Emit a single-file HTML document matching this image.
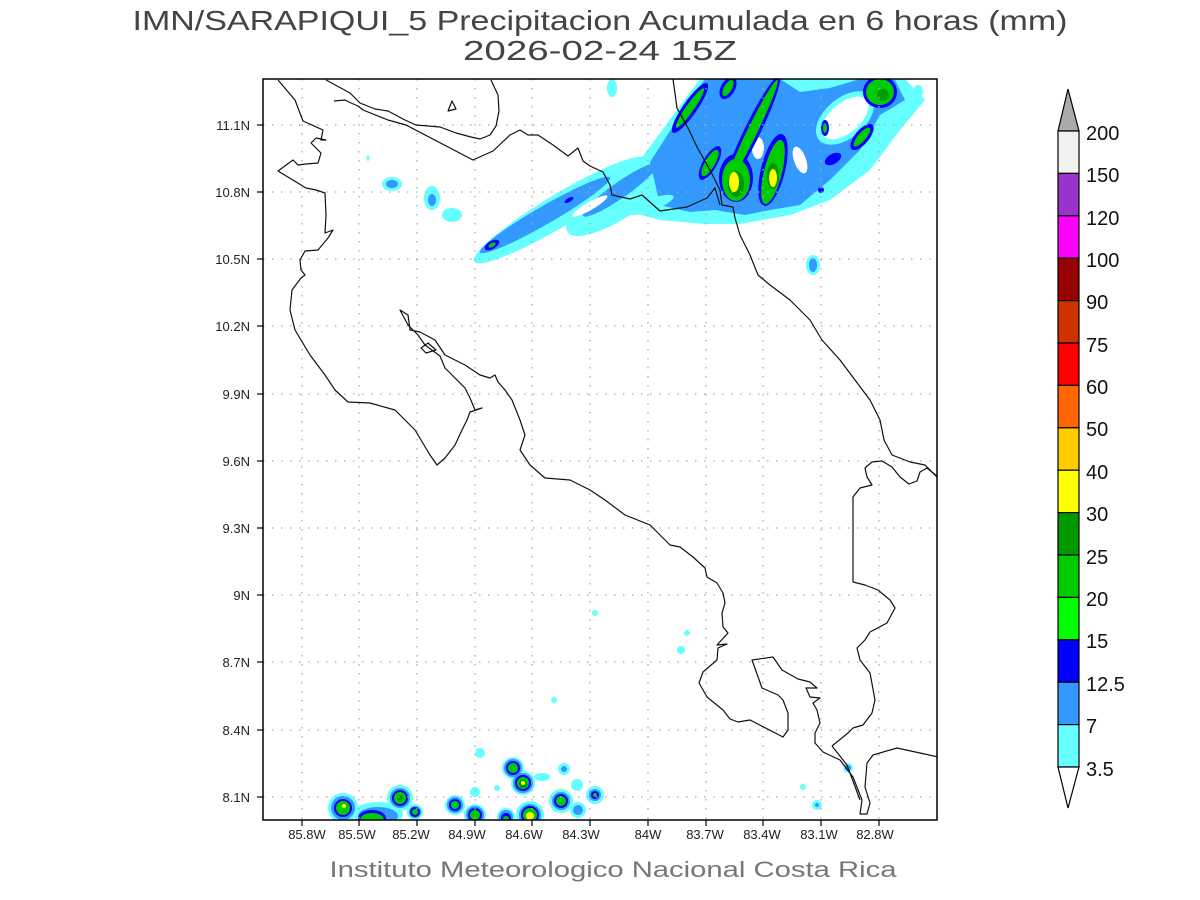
<!DOCTYPE html>
<html><head><meta charset="utf-8"><style>
html,body{margin:0;padding:0;background:#fff;}
svg{display:block;font-family:"Liberation Sans",sans-serif;}
</style></head><body>
<svg width="1200" height="900" viewBox="0 0 1200 900" xmlns="http://www.w3.org/2000/svg">
<rect width="1200" height="900" fill="#fff"/>
<text x="600" y="30" font-size="28" text-anchor="middle" textLength="935" lengthAdjust="spacingAndGlyphs" fill="#444">IMN/SARAPIQUI_5 Precipitacion Acumulada en 6 horas (mm)</text>
<text x="600" y="60" font-size="28" text-anchor="middle" textLength="274" lengthAdjust="spacingAndGlyphs" fill="#444">2026-02-24 15Z</text>
<defs><clipPath id="c"><rect x="263" y="79" width="674" height="741"/></clipPath></defs>
<g clip-path="url(#c)">
<g fill="#66ffff">
<ellipse cx="560" cy="210" rx="100" ry="16" transform="rotate(-31 560 210)"/>
<ellipse cx="625" cy="192" rx="70" ry="22" transform="rotate(-35 625 192)"/>
<polygon points="640,160 700,79 905,79 925,100 900,130 870,170 830,200 790,215 740,224 705,224 660,220 630,212"/>
<ellipse cx="918" cy="92" rx="5" ry="7"/><ellipse cx="612" cy="88" rx="5" ry="9"/>
<ellipse cx="813" cy="265" rx="7" ry="10"/>
<ellipse cx="392" cy="184" rx="10" ry="7"/><ellipse cx="432" cy="198" rx="8" ry="12"/><ellipse cx="452" cy="215" rx="10" ry="7"/>
<ellipse cx="368" cy="158" rx="1.5" ry="3"/>
<circle cx="343" cy="808" r="15"/><ellipse cx="378" cy="814" rx="25" ry="12"/><circle cx="400" cy="798" r="13"/><circle cx="415" cy="812" r="8"/>
<circle cx="455" cy="805" r="10"/><circle cx="475" cy="815" r="11"/><circle cx="480" cy="753" r="5"/><circle cx="475" cy="792" r="5"/>
<circle cx="513" cy="768" r="11"/><circle cx="523" cy="783" r="12"/><ellipse cx="542" cy="777" rx="8" ry="4"/><circle cx="497" cy="788" r="3"/>
<circle cx="506" cy="817" r="9"/><circle cx="530" cy="815" r="14"/><circle cx="564" cy="769" r="6"/><circle cx="577" cy="785" r="6"/>
<circle cx="561" cy="801" r="12"/><circle cx="578" cy="810" r="8"/><circle cx="595" cy="795" r="9"/>
<circle cx="554" cy="700" r="3"/><circle cx="595" cy="613" r="3"/><circle cx="681" cy="650" r="4"/><circle cx="687" cy="633" r="3"/>
<circle cx="803" cy="787" r="3"/><circle cx="817" cy="805" r="5"/><circle cx="848" cy="768" r="5"/>
</g>
<g fill="#3399ff">
<ellipse cx="545" cy="215" rx="75" ry="9" transform="rotate(-30 545 215)"/>
<ellipse cx="620" cy="190" rx="45" ry="8" transform="rotate(-35 620 190)"/>
<polygon points="650,162 690,100 705,79 780,79 800,92 830,88 860,79 895,80 905,100 880,115 860,150 830,180 800,205 770,210 745,215 715,210 690,212 660,205"/>
<ellipse cx="813" cy="265" rx="4" ry="7"/><ellipse cx="392" cy="184" rx="6" ry="4"/><ellipse cx="432" cy="200" rx="4" ry="6"/>
<circle cx="343" cy="808" r="12"/><ellipse cx="378" cy="816" rx="20" ry="9"/><circle cx="400" cy="798" r="10"/><circle cx="415" cy="812" r="6"/>
<circle cx="455" cy="805" r="8"/><circle cx="475" cy="815" r="9"/><circle cx="513" cy="768" r="9"/><circle cx="523" cy="783" r="10"/>
<circle cx="506" cy="817" r="7"/><circle cx="530" cy="815" r="11"/><circle cx="564" cy="769" r="3"/><circle cx="561" cy="801" r="9"/><circle cx="578" cy="810" r="5"/><circle cx="595" cy="795" r="6"/>
<circle cx="848" cy="768" r="3"/><circle cx="817" cy="805" r="2"/>
</g>
<g fill="#66ffff">
<ellipse cx="845" cy="118" rx="34" ry="20" transform="rotate(-40 845 118)"/>
<ellipse cx="650" cy="205" rx="25" ry="6" transform="rotate(-20 650 205)"/>
</g>
<g fill="#fff">
<ellipse cx="845" cy="118" rx="28" ry="15" transform="rotate(-40 845 118)"/>
<ellipse cx="758" cy="148" rx="6" ry="11"/>
<ellipse cx="590" cy="206" rx="20" ry="4" transform="rotate(-30 590 206)"/>
<ellipse cx="800" cy="160" rx="6" ry="14" transform="rotate(-20 800 160)"/>
</g>
<g fill="#0000ff">
<ellipse cx="690" cy="108" rx="30" ry="7" transform="rotate(-55 690 108)"/>
<ellipse cx="728" cy="88" rx="12" ry="7" transform="rotate(-60 728 88)"/>
<ellipse cx="752" cy="132" rx="62" ry="8" transform="rotate(-64 752 132)"/>
<ellipse cx="736" cy="178" rx="17" ry="24"/>
<ellipse cx="773" cy="170" rx="37" ry="12" transform="rotate(-76 773 170)"/>
<ellipse cx="710" cy="163" rx="19" ry="7" transform="rotate(-60 710 163)"/>
<ellipse cx="862" cy="137" rx="16" ry="7" transform="rotate(-50 862 137)"/>
<ellipse cx="833" cy="159" rx="9" ry="5" transform="rotate(-30 833 159)"/>
<ellipse cx="825" cy="128" rx="4" ry="8"/>
<ellipse cx="880" cy="92" rx="17" ry="16"/>
<circle cx="821" cy="190" r="3"/>
<ellipse cx="492" cy="245" rx="8" ry="4" transform="rotate(-30 492 245)"/>
<ellipse cx="569" cy="200" rx="5" ry="2" transform="rotate(-30 569 200)"/>
<circle cx="343" cy="808" r="9"/><ellipse cx="372" cy="818" rx="14" ry="8"/><circle cx="400" cy="798" r="8"/><circle cx="415" cy="812" r="5"/>
<circle cx="455" cy="805" r="6"/><circle cx="475" cy="815" r="7"/><circle cx="513" cy="768" r="7"/><circle cx="523" cy="783" r="8"/><circle cx="506" cy="818" r="5"/><circle cx="530" cy="815" r="9"/><circle cx="561" cy="801" r="7"/><circle cx="595" cy="795" r="4"/>
</g>
<g fill="#00cc00">
<ellipse cx="690" cy="108" rx="24" ry="4" transform="rotate(-55 690 108)"/>
<ellipse cx="728" cy="88" rx="9" ry="4" transform="rotate(-60 728 88)"/>
<ellipse cx="752" cy="132" rx="58" ry="5" transform="rotate(-64 752 132)"/>
<ellipse cx="736" cy="180" rx="14" ry="21"/>
<ellipse cx="773" cy="172" rx="33" ry="9" transform="rotate(-76 773 172)"/>
<ellipse cx="710" cy="163" rx="15" ry="5" transform="rotate(-60 710 163)"/>
<ellipse cx="862" cy="137" rx="12" ry="4" transform="rotate(-50 862 137)"/>
<ellipse cx="880" cy="92" rx="14" ry="13"/>
<ellipse cx="825" cy="128" rx="2" ry="5"/>
<ellipse cx="492" cy="245" rx="4" ry="2" transform="rotate(-30 492 245)"/>
<circle cx="343" cy="808" r="7"/><ellipse cx="372" cy="820" rx="12" ry="7"/><circle cx="400" cy="798" r="6"/><circle cx="415" cy="812" r="3"/>
<circle cx="455" cy="805" r="4"/><circle cx="475" cy="815" r="5"/><circle cx="513" cy="768" r="5"/><circle cx="523" cy="783" r="6"/><circle cx="506" cy="819" r="3"/><circle cx="530" cy="815" r="7"/><circle cx="561" cy="801" r="5"/><circle cx="595" cy="795" r="2"/>
</g>
<g fill="#009900"><circle cx="883" cy="95" r="6"/><ellipse cx="736" cy="184" rx="8" ry="13"/><ellipse cx="773" cy="176" rx="6" ry="13"/><circle cx="523" cy="784" r="4"/><circle cx="400" cy="798" r="3"/></g>
<g fill="#ffff00"><ellipse cx="734" cy="182" rx="5" ry="10"/><ellipse cx="773" cy="178" rx="4" ry="9"/><circle cx="530" cy="816" r="4"/><circle cx="344" cy="806" r="2"/><circle cx="523" cy="783" r="2"/></g>
<g stroke="#aaa" stroke-width="1.3" stroke-dasharray="1.5,7.5">
<line x1="302" y1="79" x2="302" y2="820"/><line x1="359" y1="79" x2="359" y2="820"/><line x1="417" y1="79" x2="417" y2="820"/><line x1="475" y1="79" x2="475" y2="820"/><line x1="532" y1="79" x2="532" y2="820"/><line x1="590" y1="79" x2="590" y2="820"/><line x1="648" y1="79" x2="648" y2="820"/><line x1="706" y1="79" x2="706" y2="820"/><line x1="763" y1="79" x2="763" y2="820"/><line x1="821" y1="79" x2="821" y2="820"/><line x1="879" y1="79" x2="879" y2="820"/>
<line x1="263" y1="125" x2="937" y2="125"/><line x1="263" y1="192" x2="937" y2="192"/><line x1="263" y1="259" x2="937" y2="259"/><line x1="263" y1="326" x2="937" y2="326"/><line x1="263" y1="394" x2="937" y2="394"/><line x1="263" y1="461" x2="937" y2="461"/><line x1="263" y1="528" x2="937" y2="528"/><line x1="263" y1="595" x2="937" y2="595"/><line x1="263" y1="662" x2="937" y2="662"/><line x1="263" y1="730" x2="937" y2="730"/><line x1="263" y1="797" x2="937" y2="797"/>
</g>
<g fill="none" stroke="#111" stroke-width="1.2" stroke-linejoin="round">
<polyline points="278,80 295,100 303,121 323,130 321,140 326,140 316,138 311,143 321,153 318,163 306,164 298,165 293,160 278,171 306,188 316,190 325,193 326,215 325,233 333,230 328,238 318,250 305,251 300,260 301,270 305,275 301,278 292,290 290,310 295,330 310,355 325,375 335,390 348,402 370,403 395,410 415,430 430,455 437,465 445,458 455,445 462,430 467,420 470,412 482,408 475,410 470,398 465,388 455,378 445,368 440,356 425,345 418,335 408,325 400,310 408,315 410,330 420,332 435,340 445,355 465,365 480,375 490,378 495,375 498,382 505,390 512,400 520,420 525,435 520,450 530,465 545,478 570,480 590,490 605,500 625,515 650,525 670,545 680,547 693,557 705,568 707,577 717,583 723,593 725,603 722,613 723,627 728,633 717,645 727,644 718,648 717,660 703,672 699,683 707,697 723,710 730,719 738,722 750,720 783,737 788,730 788,713 783,700 778,695 762,688 752,660 773,657 782,670 798,679 810,682 817,688 806,688 810,697 820,698 813,703 817,710 820,723 815,733 815,743 823,752 840,760 853,777 862,800 860,814 867,814 870,803 865,787 867,763 873,755 897,748 920,753 938,757"/>
<polyline points="832,746 848,733 853,728 863,725 872,713 875,700 870,673 860,660 857,648 865,640 870,632 887,623 895,608 890,600 878,590 865,585 853,582 853,497 860,488 872,485 867,477 865,468 872,462 882,461 892,467 900,477 909,484 917,481 920,472 927,468 938,477"/>
<polyline points="832,746 847,765 860,800"/>
<polyline points="673,79 677,108 688,128 697,147 710,170 720,190 722,205 733,207 735,218 740,235 750,255 758,275 770,285 790,300 810,320 822,340 840,360 855,380 870,400 880,420 884,440 892,455 910,462 925,465 938,478"/>
<polyline points="326,80 350,93 360,103 375,109 388,111 405,120 416,125 440,127 456,133 471,137 480,139 490,135 496,126 499,111 498,95 491,80"/>
<polyline points="334,101 345,100 351,103 358,106 363,110 388,120 406,125 473,160 493,151 510,135 520,130 528,135 538,135 553,145 568,156 578,148 583,161 590,166 603,172 610,185 612,195 630,199 642,195 660,211 687,207 707,198 715,188 720,205"/>
<polygon points="448,111 452,101 456,109"/>
<polygon points="421,348 428,343 436,350 426,353"/>
</g>
</g>
<rect x="263" y="79" width="674" height="741" fill="none" stroke="#000" stroke-width="1.5"/>
<g stroke="#000" stroke-width="1.2">
<line x1="302" y1="820" x2="302" y2="826"/><line x1="359" y1="820" x2="359" y2="826"/><line x1="417" y1="820" x2="417" y2="826"/><line x1="475" y1="820" x2="475" y2="826"/><line x1="532" y1="820" x2="532" y2="826"/><line x1="590" y1="820" x2="590" y2="826"/><line x1="648" y1="820" x2="648" y2="826"/><line x1="706" y1="820" x2="706" y2="826"/><line x1="763" y1="820" x2="763" y2="826"/><line x1="821" y1="820" x2="821" y2="826"/><line x1="879" y1="820" x2="879" y2="826"/>
<line x1="257" y1="125" x2="263" y2="125"/><line x1="257" y1="192" x2="263" y2="192"/><line x1="257" y1="259" x2="263" y2="259"/><line x1="257" y1="326" x2="263" y2="326"/><line x1="257" y1="394" x2="263" y2="394"/><line x1="257" y1="461" x2="263" y2="461"/><line x1="257" y1="528" x2="263" y2="528"/><line x1="257" y1="595" x2="263" y2="595"/><line x1="257" y1="662" x2="263" y2="662"/><line x1="257" y1="730" x2="263" y2="730"/><line x1="257" y1="797" x2="263" y2="797"/>
</g>
<g font-size="13" fill="#222" text-anchor="middle">
<text x="307" y="839">85.8W</text><text x="357" y="839">85.5W</text><text x="411" y="839">85.2W</text><text x="467" y="839">84.9W</text><text x="524" y="839">84.6W</text><text x="581" y="839">84.3W</text><text x="648" y="839">84W</text><text x="705" y="839">83.7W</text><text x="762" y="839">83.4W</text><text x="819" y="839">83.1W</text><text x="875" y="839">82.8W</text>
</g>
<g font-size="13" fill="#222" text-anchor="end">
<text x="250" y="130">11.1N</text><text x="250" y="197">10.8N</text><text x="250" y="264">10.5N</text><text x="250" y="331">10.2N</text><text x="250" y="399">9.9N</text><text x="250" y="466">9.6N</text><text x="250" y="533">9.3N</text><text x="250" y="600">9N</text><text x="250" y="667">8.7N</text><text x="250" y="735">8.4N</text><text x="250" y="802">8.1N</text>
</g>
<text x="613" y="877" font-size="22" text-anchor="middle" textLength="567" lengthAdjust="spacingAndGlyphs" fill="#777">Instituto Meteorologico Nacional Costa Rica</text>
<g stroke="#000" stroke-width="1.2">
<polygon points="1058,131 1068,89 1079,131" fill="#aaaaaa"/>
<rect x="1058" y="131" width="21" height="42.4" fill="#f2f2f2"/>
<rect x="1058" y="173.4" width="21" height="42.4" fill="#9933cc"/>
<rect x="1058" y="215.8" width="21" height="42.4" fill="#ff00ff"/>
<rect x="1058" y="258.2" width="21" height="42.4" fill="#990000"/>
<rect x="1058" y="300.6" width="21" height="42.4" fill="#cc3300"/>
<rect x="1058" y="343" width="21" height="42.4" fill="#ff0000"/>
<rect x="1058" y="385.4" width="21" height="42.4" fill="#ff6600"/>
<rect x="1058" y="427.8" width="21" height="42.4" fill="#ffcc00"/>
<rect x="1058" y="470.2" width="21" height="42.4" fill="#ffff00"/>
<rect x="1058" y="512.6" width="21" height="42.4" fill="#009900"/>
<rect x="1058" y="555" width="21" height="42.4" fill="#00cc00"/>
<rect x="1058" y="597.4" width="21" height="42.4" fill="#00ff00"/>
<rect x="1058" y="639.8" width="21" height="42.4" fill="#0000ff"/>
<rect x="1058" y="682.2" width="21" height="42.4" fill="#3399ff"/>
<rect x="1058" y="724.6" width="21" height="42.4" fill="#66ffff"/>
<polygon points="1058,767 1068,808 1079,767" fill="#fff"/>
</g>
<g font-size="20" fill="#111">
<text x="1086" y="140">200</text><text x="1086" y="182">150</text><text x="1086" y="225">120</text><text x="1086" y="267">100</text><text x="1086" y="309">90</text><text x="1086" y="352">75</text><text x="1086" y="394">60</text><text x="1086" y="436">50</text><text x="1086" y="479">40</text><text x="1086" y="521">30</text><text x="1086" y="564">25</text><text x="1086" y="606">20</text><text x="1086" y="648">15</text><text x="1086" y="691">12.5</text><text x="1086" y="733">7</text><text x="1086" y="776">3.5</text>
</g>
</svg>
</body></html>
